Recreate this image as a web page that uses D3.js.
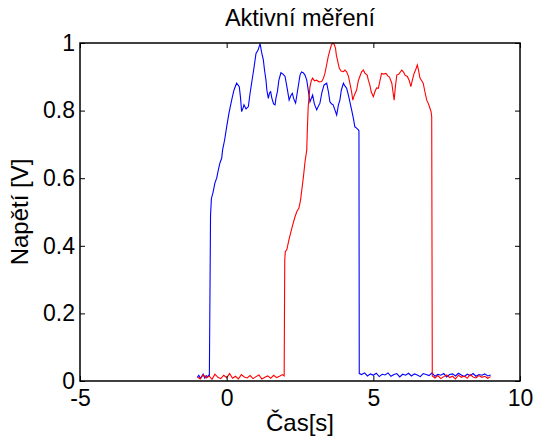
<!DOCTYPE html>
<html><head><meta charset="utf-8">
<script src="https://cdn.jsdelivr.net/npm/d3@7"></script>
<style>
html,body{margin:0;padding:0;background:#fff;}
text{font-family:"Liberation Sans",Arial,Helvetica,sans-serif;fill:#000;}
</style></head>
<body><svg id="c" width="535" height="438"></svg>
<script>
const titleText = "Aktivní měření";
const xLabel = "Čas[s]";
const yLabel = "Napětí [V]";
const xTicks = [-5, 0, 5, 10];
const xTickLabels = ["-5", "0", "5", "10"];
const yTicks = [0, 0.2, 0.4, 0.6, 0.8, 1];
const yTickLabels = ["0", "0.2", "0.4", "0.6", "0.8", "1"];

// Blue series (time [s], voltage [V])
const blueTime = [-1.0,-0.95,-0.9,-0.85,-0.8,-0.75,-0.7,-0.65,-0.6,-0.59,
 -0.55,-0.52,-0.47,-0.40,-0.34,-0.30,-0.23,-0.17,-0.14,-0.07,0.0,0.08,0.17,0.25,0.34,0.43,0.47,0.51,0.56,0.59,0.66,0.74,0.79,0.85,0.93,1.0,1.07,1.14,1.19,1.25,1.29,1.34,1.37,1.42,1.46,1.50,1.54,1.60,1.65,1.68,1.73,1.78,1.85,1.92,1.99,2.06,2.13,2.18,2.24,2.29,2.35,2.41,2.50,2.55,2.61,2.67,2.73,2.79,2.84,2.89,2.93,2.99,3.07,3.13,3.18,3.25,3.32,3.41,3.47,3.52,3.57,3.63,3.69,3.75,3.81,3.86,3.91,3.98,4.03,4.09,4.15,4.20,4.26,4.32,4.37,4.42,4.49,4.51,
 4.52,4.6,4.7,4.8,4.9,5.0,5.1,5.2,5.3,5.4,5.5,5.6,5.7,5.8,5.9,6.0,6.1,6.2,6.3,6.4,6.5,6.6,6.7,6.8,6.9,7.0,7.1,7.2,7.3,7.4,7.5,7.6,7.7,7.8,7.9,8.0,8.1,8.2,8.3,8.4,8.5,8.6,8.7,8.8,8.9,9.0];
const blueVolt = [0.011,0.017,0.008,0.014,0.020,0.009,0.016,0.012,0.018,0.013,
 0.490,0.540,0.556,0.586,0.600,0.618,0.645,0.659,0.683,0.713,0.752,0.793,0.831,0.861,0.881,0.871,0.840,0.797,0.808,0.817,0.805,0.812,0.846,0.881,0.926,0.969,0.979,0.998,0.973,0.950,0.920,0.890,0.861,0.836,0.852,0.856,0.837,0.820,0.817,0.837,0.856,0.890,0.912,0.908,0.901,0.867,0.831,0.843,0.851,0.834,0.822,0.855,0.905,0.914,0.912,0.905,0.890,0.855,0.826,0.837,0.846,0.820,0.802,0.814,0.822,0.855,0.876,0.881,0.855,0.826,0.820,0.817,0.802,0.787,0.817,0.831,0.861,0.881,0.873,0.866,0.846,0.826,0.802,0.777,0.752,0.749,0.743,0.740,
 0.022,0.019,0.024,0.015,0.021,0.017,0.023,0.013,0.020,0.018,0.024,0.014,0.019,0.022,0.012,0.020,0.017,0.023,0.015,0.021,0.018,0.013,0.022,0.019,0.016,0.024,0.014,0.020,0.017,0.022,0.012,0.019,0.021,0.015,0.023,0.018,0.013,0.020,0.016,0.022,0.014,0.019,0.017,0.021,0.015,0.018];

// Red series (time [s], voltage [V])
const redTime = [-1.0,-0.9,-0.8,-0.7,-0.6,-0.5,-0.4,-0.3,-0.2,-0.1,0.0,0.1,0.2,0.3,0.4,0.5,0.6,0.7,0.8,0.9,1.0,1.1,1.2,1.3,1.4,1.5,1.6,1.7,1.8,1.9,1.96,
 1.98,2.0,2.05,2.12,2.19,2.26,2.33,2.40,2.46,2.50,2.52,2.57,2.62,2.67,2.73,2.75,2.78,2.84,2.89,2.93,2.99,3.07,3.15,3.24,3.30,3.35,3.40,3.46,3.52,3.57,3.61,3.66,3.71,3.74,3.79,3.84,3.90,3.98,4.03,4.09,4.15,4.20,4.26,4.30,4.34,4.43,4.49,4.54,4.60,4.66,4.71,4.79,4.83,4.88,4.93,5.00,5.05,5.11,5.17,5.23,5.28,5.35,5.43,5.50,5.55,5.63,5.67,5.71,5.75,5.80,5.87,5.97,6.03,6.08,6.16,6.22,6.28,6.33,6.39,6.44,6.50,6.54,6.59,6.64,6.70,6.76,6.82,6.88,6.93,6.97,6.99,
 7.01,7.1,7.2,7.3,7.4,7.5,7.6,7.7,7.8,7.9,8.0,8.1,8.2,8.3,8.4,8.5,8.6,8.7,8.8,8.9,9.0];
const redVolt = [0.012,0.006,0.018,0.009,0.015,0.005,0.020,0.011,0.007,0.017,0.010,0.022,0.008,0.014,0.006,0.019,0.012,0.009,0.016,0.007,0.013,0.018,0.006,0.011,0.015,0.008,0.017,0.010,0.014,0.019,0.015,
 0.358,0.383,0.388,0.417,0.441,0.464,0.486,0.503,0.511,0.527,0.536,0.571,0.607,0.648,0.683,0.743,0.812,0.871,0.890,0.896,0.888,0.890,0.885,0.886,0.896,0.910,0.932,0.959,0.979,0.994,0.999,0.997,0.985,0.964,0.944,0.925,0.917,0.915,0.920,0.915,0.902,0.881,0.855,0.831,0.843,0.861,0.889,0.901,0.915,0.920,0.911,0.905,0.890,0.876,0.855,0.841,0.855,0.867,0.866,0.890,0.910,0.908,0.910,0.902,0.899,0.881,0.855,0.831,0.870,0.905,0.908,0.920,0.914,0.905,0.901,0.890,0.871,0.890,0.910,0.920,0.935,0.920,0.896,0.890,0.881,0.855,0.831,0.820,0.807,0.796,0.782,
 0.015,0.009,0.016,0.007,0.013,0.018,0.010,0.014,0.006,0.017,0.011,0.015,0.008,0.019,0.012,0.009,0.016,0.011,0.014,0.008,0.013];

const svg = d3.select("#c");
const m = {l: 80, r: 520, t: 43, b: 381};
const x = d3.scaleLinear().domain([-5, 10]).range([m.l, m.r]);
const y = d3.scaleLinear().domain([0, 1]).range([m.b, m.t]);

svg.append("defs").append("clipPath").attr("id","clip")
  .append("rect").attr("x", m.l).attr("y", m.t - 1).attr("width", m.r - m.l).attr("height", m.b - m.t + 1);

const line = d3.line().x(d => x(d[0])).y(d => y(d[1]));
const blue = blueTime.map((t, i) => [t, blueVolt[i]]);
const red = redTime.map((t, i) => [t, redVolt[i]]);
const g = svg.append("g").attr("clip-path", "url(#clip)");
g.append("path").datum(blue).attr("d", line).attr("fill","none").attr("stroke","#0000ff").attr("stroke-width",1.1);
g.append("path").datum(red).attr("d", line).attr("fill","none").attr("stroke","#ff0000").attr("stroke-width",1.1);

const tl = 5;
const axB = d3.axisBottom(x).tickValues(xTicks).tickSize(-tl).tickPadding(9).tickFormat((d,i) => xTickLabels[i]);
const axT = d3.axisTop(x).tickValues(xTicks).tickSize(-tl).tickFormat("");
const axL = d3.axisLeft(y).tickValues(yTicks).tickSize(-tl).tickPadding(5).tickFormat((d,i) => yTickLabels[i]);
const axR = d3.axisRight(y).tickValues(yTicks).tickSize(-tl).tickFormat("");
function style(sel){
  sel.selectAll(".domain").attr("d", null);
  sel.selectAll(".tick line").attr("stroke","#000").attr("stroke-width",1);
  sel.selectAll("text").attr("font-size", 23).attr("font-family", '"Liberation Sans",Arial,sans-serif').attr("fill","#000");
}
svg.append("g").attr("transform",`translate(0,${m.b})`).call(axB).call(style);
svg.append("g").attr("transform",`translate(0,${m.t})`).call(axT).call(style);
svg.append("g").attr("transform",`translate(${m.l},0)`).call(axL).call(style);
svg.append("g").attr("transform",`translate(${m.r},0)`).call(axR).call(style);
svg.append("rect").attr("x", m.l).attr("y", m.t).attr("width", m.r - m.l).attr("height", m.b - m.t)
  .attr("fill","none").attr("stroke","#000").attr("stroke-width",1.5);

svg.append("text").attr("x", (m.l + m.r)/2).attr("y", 26).attr("text-anchor","middle").attr("font-size", 23.5).text(titleText);
svg.append("text").attr("x", (m.l + m.r)/2).attr("y", 431).attr("text-anchor","middle").attr("font-size", 24).text(xLabel);
svg.append("text").attr("transform", `translate(28,${(m.t + m.b)/2}) rotate(-90)`).attr("text-anchor","middle").attr("font-size", 24).text(yLabel);
</script></body></html>
